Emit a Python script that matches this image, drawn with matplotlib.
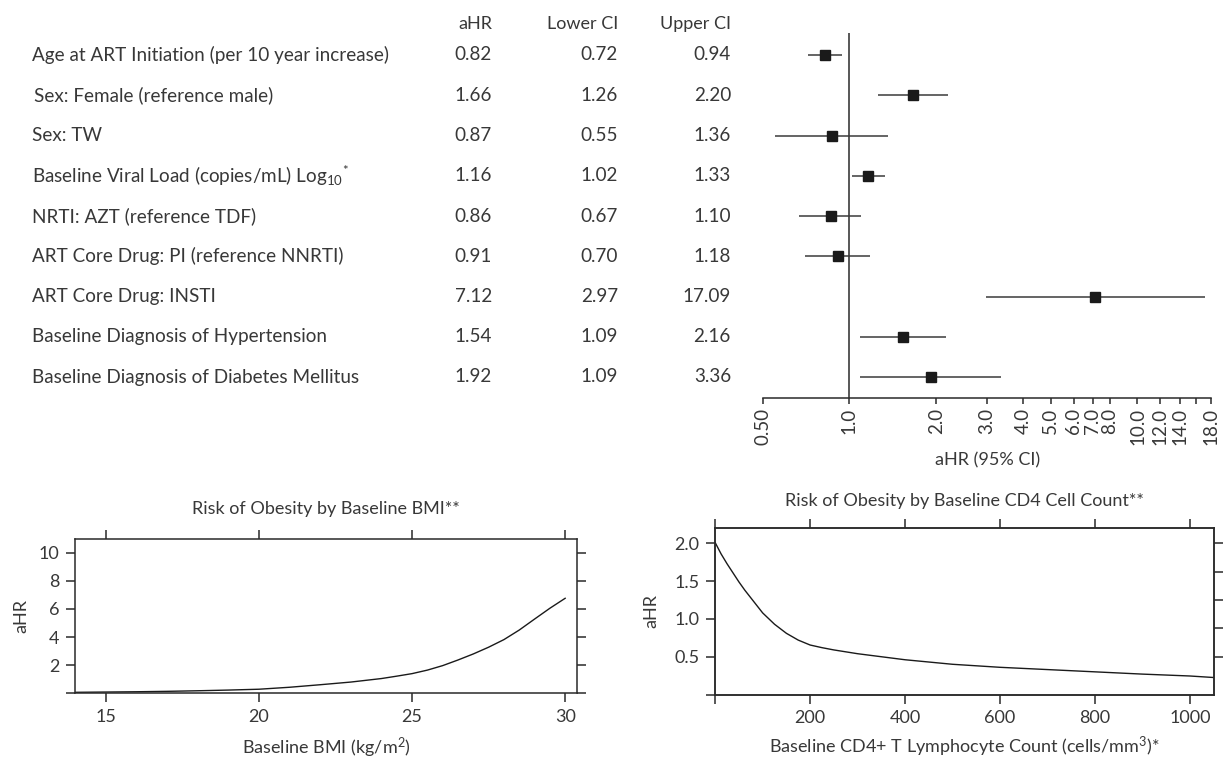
import matplotlib
matplotlib.use("Agg")
import matplotlib.pyplot as plt
from matplotlib.transforms import blended_transform_factory

# --- dados ---
labels = [
    "Age at ART Initiation (per 10 year increase)",
    "Sex: Female (reference male)",
    "Sex: TW",
    r"Baseline Viral Load (copies/mL) Log$_\mathregular{10}$$^\mathregular{*}$",
    "NRTI: AZT (reference TDF)",
    "ART Core Drug: PI (reference NNRTI)",
    "ART Core Drug: INSTI",
    "Baseline Diagnosis of Hypertension",
    "Baseline Diagnosis of Diabetes Mellitus",
]
ahr = [0.82, 1.66, 0.87, 1.16, 0.86, 0.91, 7.12, 1.54, 1.92]
lower_ci = [0.72, 1.26, 0.55, 1.02, 0.67, 0.70, 2.97, 1.09, 1.09]
upper_ci = [0.94, 2.20, 1.36, 1.33, 1.10, 1.18, 17.09, 2.16, 3.36]
col_titles = ["aHR", "Lower CI", "Upper CI"]

forest_ticks = [0.5, 1, 2, 3, 4, 5, 6, 7, 8, 10, 12, 14, 16, 18]
forest_ticklabels = ["0.50", "1.0", "2.0", "3.0", "4.0", "5.0", "6.0", "7.0",
                     "8.0", "10.0", "12.0", "14.0", "", "18.0"]

bmi = [14, 15, 16, 17, 18, 19, 20, 21, 22, 23, 24, 24.5, 25, 25.5, 26, 26.5,
       27, 27.5, 28, 28.5, 29, 29.5, 30]
bmi_ahr = [0.07, 0.09, 0.11, 0.14, 0.18, 0.23, 0.29, 0.43, 0.61, 0.80,
           1.05, 1.22, 1.40, 1.65, 1.97, 2.37, 2.80, 3.28, 3.82, 4.50,
           5.28, 6.05, 6.76]

cd4 = [0, 12.5, 25, 37.5, 50, 62.5, 75, 87.5, 100, 125, 150, 175, 200,
       225, 250, 275, 300, 350, 400, 500, 600, 700, 800, 900, 1000, 1050]
cd4_ahr = [2.01, 1.86, 1.73, 1.61, 1.49, 1.38, 1.28, 1.18, 1.08, 0.93,
           0.81, 0.72, 0.655, 0.62, 0.59, 0.565, 0.54, 0.50, 0.46, 0.40,
           0.36, 0.33, 0.30, 0.27, 0.245, 0.225]

# --- estilo ---
plt.rcParams["font.family"] = ["Lato", "DejaVu Sans"]
plt.rcParams["mathtext.fontset"] = "custom"
plt.rcParams["mathtext.rm"] = "Lato"
plt.rcParams["mathtext.it"] = "Lato:italic"
plt.rcParams["font.size"] = 13
TXT = "#383838"
LN = "#2a2a2a"
plt.rcParams["text.color"] = TXT
plt.rcParams["xtick.color"] = LN
plt.rcParams["ytick.color"] = LN
plt.rcParams["xtick.labelcolor"] = TXT
plt.rcParams["ytick.labelcolor"] = TXT
plt.rcParams["axes.edgecolor"] = LN

W, H = 1223, 759
fig = plt.figure(figsize=(W / 100, H / 100), dpi=100)


def eixo_px(x0, y0, x1, y1):
    # cria um eixo a partir de coordenadas em pixels (origem no topo)
    return fig.add_axes([x0 / W, 1 - y1 / H, (x1 - x0) / W, (y1 - y0) / H])


# --- forest plot ---
axf = eixo_px(762.7, 33, 1211, 398.3)
n = len(labels)
rows = list(range(n))
axf.set_xscale("log")
axf.set_xlim(0.5, 18)
axf.set_ylim((398.3 - 55) / 40.25, (33 - 55) / 40.25)
axf.axvline(1.0, color=LN, lw=1.1)
axf.hlines(rows, lower_ci, upper_ci, color="#3a3a3a", lw=1.1)
axf.plot(ahr, rows, "s", color="#1a1a1a", ms=6.5)
for s in ["left", "right", "top"]:
    axf.spines[s].set_visible(False)
axf.spines["bottom"].set_linewidth(1.1)
axf.set_yticks([])
axf.set_xticks(forest_ticks)
axf.set_xticklabels(forest_ticklabels, rotation=90, fontsize=13.5)
axf.minorticks_off()
axf.tick_params(axis="x", length=4, width=1.1, pad=3)
fig.text(988 / W, 1 - 460 / H, "aHR (95% CI)", ha="center", va="center")

# tabela a esquerda
tr = blended_transform_factory(fig.transFigure, axf.transData)
head_y = (24 - 55) / 40.25
col_x = [492 / W, 618 / W, 731 / W]
fs_tab = 13.6
for cx, t in zip(col_x, col_titles):
    fig.text(cx, head_y, t, ha="right", va="center", transform=tr, fontsize=13)
for i in rows:
    x_lab = 34 / W if i == 1 else 32 / W
    fig.text(x_lab, i, labels[i], ha="left", va="center", transform=tr, fontsize=fs_tab)
    fig.text(col_x[0], i, f"{ahr[i]:.2f}", ha="right", va="center", transform=tr, fontsize=fs_tab)
    fig.text(col_x[1], i, f"{lower_ci[i]:.2f}", ha="right", va="center", transform=tr, fontsize=fs_tab)
    fig.text(col_x[2], i, f"{upper_ci[i]:.2f}", ha="right", va="center", transform=tr, fontsize=fs_tab)


def estilo_painel(ax):
    for s in ax.spines.values():
        s.set_linewidth(1.1)
    ax.tick_params(direction="out", length=6.5, width=1.1, pad=5,
                   top=True, right=True)


# --- BMI ---
axb = eixo_px(75.3, 538.7, 577.4, 693.3)
axb.plot(bmi, bmi_ahr, color="#1a1a1a", lw=1.0)
axb.set_xlim(14, 30.4)
axb.set_ylim(0, 11)
axb.set_xticks([15, 20, 25, 30])
axb.set_yticks([0, 2, 4, 6, 8, 10])
axb.set_yticklabels(["", "2", "4", "6", "8", "10"])
estilo_painel(axb)
fig.text(326 / W, 1 - 509 / H, "Risk of Obesity by Baseline BMI**", ha="center", va="center")
fig.text(326 / W, 1 - 748 / H, r"Baseline BMI (kg/m$^\mathregular{2}$)", ha="center", va="center")
fig.text(21 / W, 1 - 616 / H, "aHR", ha="center", va="center", rotation=90)

# --- CD4 ---
axc = eixo_px(715.2, 528.3, 1213.5, 694.5)
axc.plot(cd4, cd4_ahr, color="#1a1a1a", lw=1.0)
axc.set_xlim(0, 1050)
axc.set_ylim(0, 2.2)
axc.set_xticks([0, 200, 400, 600, 800, 1000])
axc.set_xticklabels(["", "200", "400", "600", "800", "1000"])
axc.set_yticks([0, 0.5, 1.0, 1.5, 2.0])
axc.set_yticklabels(["", "0.5", "1.0", "1.5", "2.0"])
estilo_painel(axc)
axc.tick_params(right=False)
axr = axc.twinx()
axr.set_ylim(0, 2.2)
axr.set_yticks([0.5, 0.875, 1.25, 1.625, 2.0])
axr.set_yticklabels([])
axr.tick_params(direction="out", length=6.5, width=1.1)
for s in axr.spines.values():
    s.set_linewidth(1.1)
fig.text(964 / W, 1 - 501 / H, "Risk of Obesity by Baseline CD4 Cell Count**", ha="center", va="center")
fig.text(964 / W, 1 - 747 / H, r"Baseline CD4+ T Lymphocyte Count (cells/mm$^\mathregular{3}$)*",
         ha="center", va="center")
fig.text(651.6 / W, 1 - 611 / H, "aHR", ha="center", va="center", rotation=90)

fig.savefig("out.png", dpi=100)
